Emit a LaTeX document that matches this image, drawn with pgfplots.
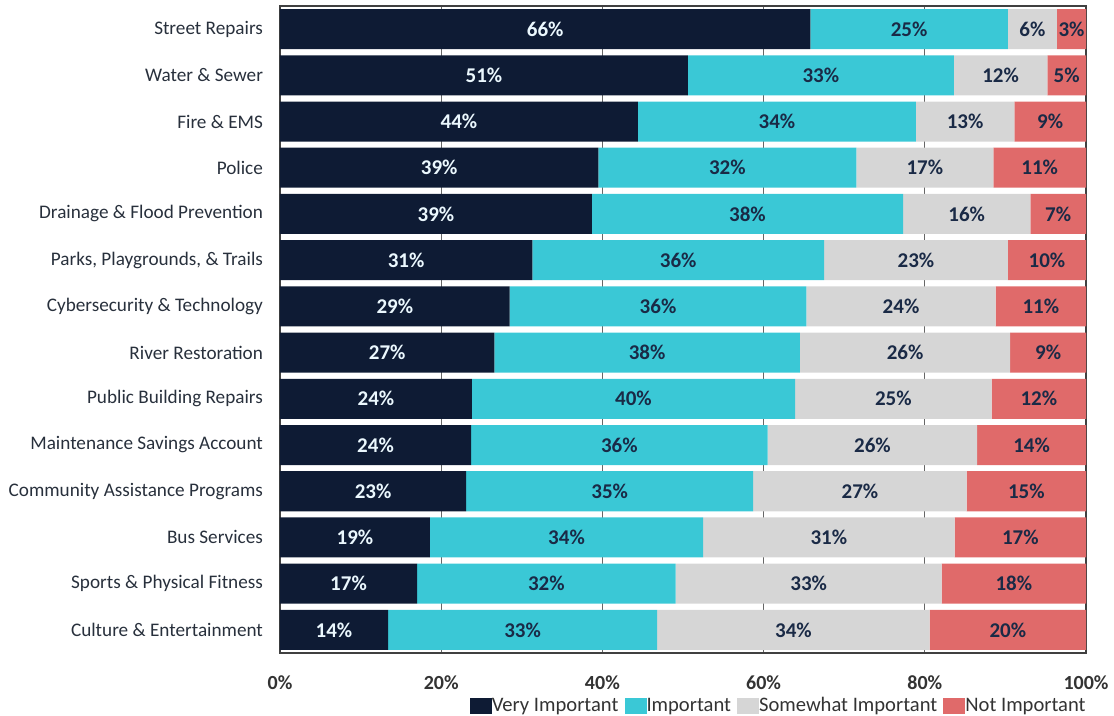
\documentclass[border=0pt]{standalone}
\usepackage{pgfplots}
\pgfplotsset{compat=1.18}
\usepackage{pgfplotstable}
\usepackage{fontspec}
\setmainfont{Carlito}

\definecolor{navy}{RGB}{14,27,52}
\definecolor{cyanbar}{RGB}{58,200,214}
\definecolor{graybar}{RGB}{214,214,214}
\definecolor{redbar}{RGB}{224,106,106}
\definecolor{labtext}{RGB}{26,42,70}
\definecolor{cattext}{RGB}{40,48,60}

% segment widths, labels as printed
\pgfplotstableread[col sep=comma]{
vi,im,sw,ni,lvi,lim,lsw,lni
65.8,24.5,6.1,3.6,66,25,6,3
50.6,33.0,11.6,4.8,51,33,12,5
44.4,34.5,12.2,8.9,44,34,13,9
39.5,32.0,17.0,11.5,39,32,17,11
38.7,38.6,15.8,6.9,39,38,16,7
31.3,36.2,22.8,9.7,31,36,23,10
28.5,36.8,23.5,11.2,29,36,24,11
26.6,37.9,26.1,9.4,27,38,26,9
23.8,40.1,24.4,11.7,24,40,25,12
23.7,36.8,26.0,13.5,24,36,26,14
23.1,35.6,26.5,14.8,23,35,27,15
18.6,33.9,31.2,16.3,19,34,31,17
17.0,32.1,33.0,17.9,17,32,33,18
13.4,33.4,33.8,19.4,14,33,34,20
}\data

\pgfplotsset{
    frame/.style={
        scale only axis,
        width=403pt, height=323.5pt,
        xmin=0, xmax=100,
        ymin=-0.5, ymax=13.5,
        y dir=reverse,
    },
}

\begin{document}
\begin{tikzpicture}
\begin{axis}[
    frame,
    xbar stacked,
    bar width=20pt,
    ytick={0,...,13},
    yticklabels={Street Repairs, Water \& Sewer, Fire \& EMS, Police,
        Drainage \& Flood Prevention, {Parks, Playgrounds, \& Trails},
        Cybersecurity \& Technology, River Restoration,
        Public Building Repairs, Maintenance Savings Account,
        Community Assistance Programs, Bus Services,
        Sports \& Physical Fitness, Culture \& Entertainment},
    xtick={0,20,...,100},
    xticklabels={\textbf{0\%},\textbf{20\%},\textbf{40\%},\textbf{60\%},\textbf{80\%},\textbf{100\%}},
    major tick length=0pt,
    yticklabel style={font=\fontsize{9.6}{11}\selectfont, text=cattext, xshift=-5pt},
    xticklabel style={font=\fontsize{10}{12}\selectfont, text=black!80, yshift=-8pt},
    xmajorgrids,
    major grid style={black!60, line width=0.5pt},
    axis line style={black!75, line width=0.6pt},
    legend style={at={(1.005,-0.062)}, anchor=north east, draw=none, fill=none,
        legend columns=-1, font=\fontsize{10.3}{12}\selectfont, text=black!80,
        /tikz/every even column/.append style={column sep=1pt},
        /tikz/every odd column/.append style={column sep=-2pt},
        inner sep=0pt},
    legend image code/.code={\path[#1,draw=none] (0pt,-4pt) rectangle (11pt,4pt);},
]
\addplot[fill=navy, draw=none] table[x=vi, y expr=\coordindex] {\data};
\addplot[fill=cyanbar, draw=none] table[x=im, y expr=\coordindex] {\data};
\addplot[fill=graybar, draw=none] table[x=sw, y expr=\coordindex] {\data};
\addplot[fill=redbar, draw=none] table[x=ni, y expr=\coordindex] {\data};
\legend{Very Important, Important, Somewhat Important, Not Important}
\end{axis}

% percentage labels, centred in each segment
\begin{axis}[
    frame,
    hide axis,
    clip=false,
    point meta=explicit symbolic,
    nodes near coords={\pgfplotspointmeta\%},
    every node near coord/.append style={font=\bfseries\fontsize{10.5}{12}\selectfont,
        anchor=center, text=labtext},
]
\addplot[only marks, mark=none, every node near coord/.append style={text=white!92!cyan}]
    table[x expr=\thisrow{vi}/2, y expr=\coordindex, meta=lvi] {\data};
\addplot[only marks, mark=none]
    table[x expr=\thisrow{vi}+\thisrow{im}/2, y expr=\coordindex, meta=lim] {\data};
\addplot[only marks, mark=none]
    table[x expr=\thisrow{vi}+\thisrow{im}+\thisrow{sw}/2, y expr=\coordindex, meta=lsw] {\data};
\addplot[only marks, mark=none]
    table[x expr=100-\thisrow{ni}/2, y expr=\coordindex, meta=lni] {\data};
\end{axis}
\pgfresetboundingbox
\useasboundingbox ([xshift=-140pt,yshift=-31.5pt]current axis.south west)
    rectangle ([xshift=14pt,yshift=3pt]current axis.north east);
\end{tikzpicture}
\end{document}
